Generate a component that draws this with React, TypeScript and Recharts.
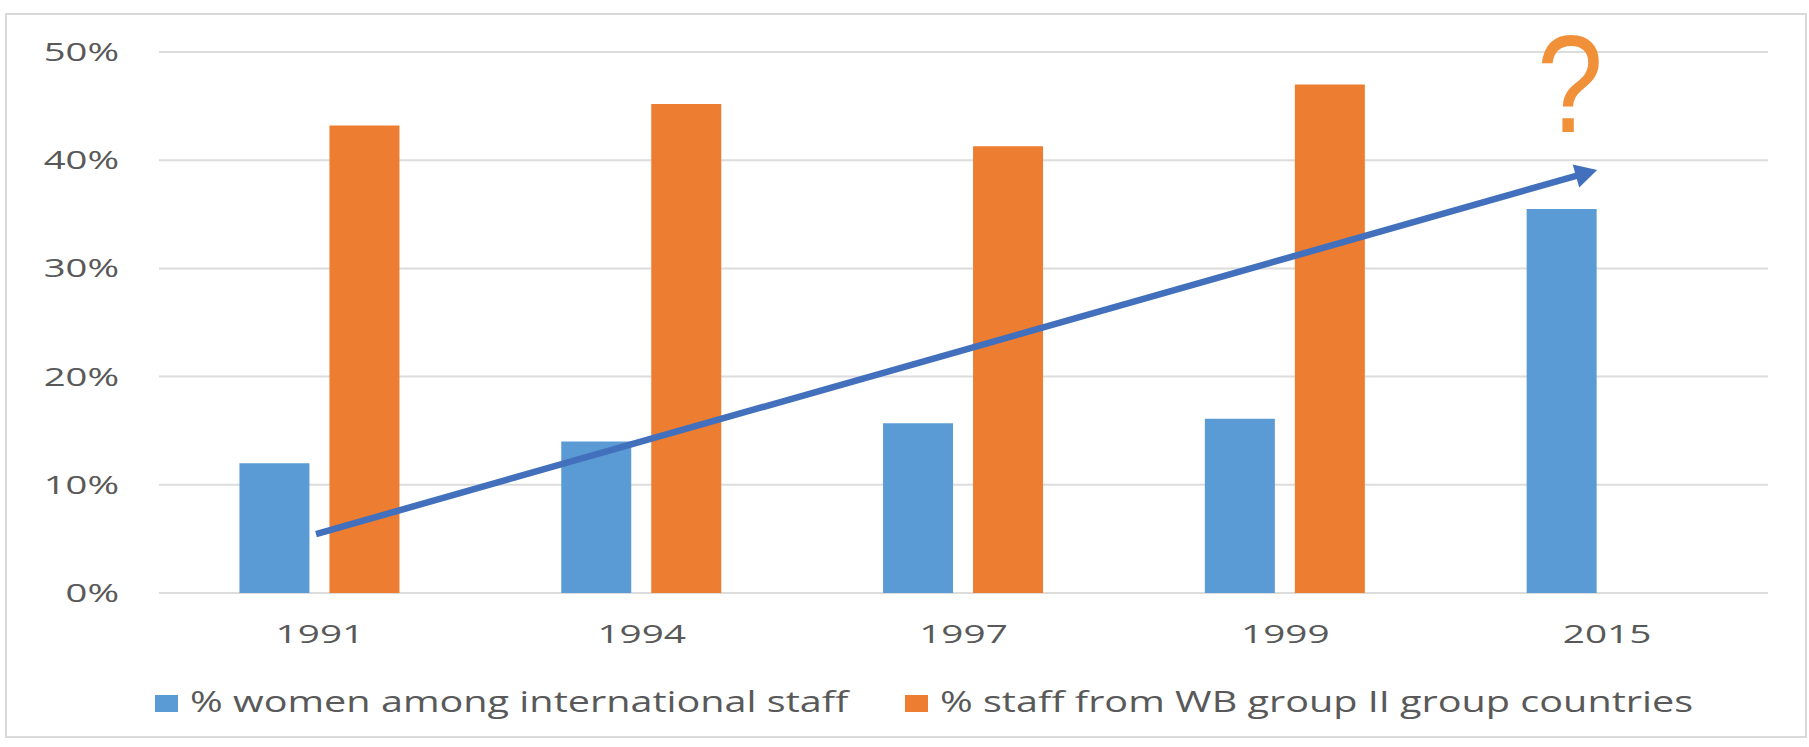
import { BarChart, Bar, XAxis, YAxis, CartesianGrid, Legend, ReferenceLine, ReferenceDot } from 'recharts';

const years = ['1991', '1994', '1997', '1999', '2015'];
const womenShare = [12.0, 14.0, 15.7, 16.1, 35.5];
const groupIIShare: (number | null)[] = [43.2, 45.2, 41.3, 47.0, null];
const yTicks = [0, 10, 20, 30, 40, 50];

const seriesNames = ['% women among international staff', '% staff from WB group II group countries'];

// trend arrow ends, on the "pos" axis (0..5 across the five bands)
const trendStart = { x: 0.488, y: 5.45 };
const trendEnd = { x: 4.469, y: 39.1 };
const questionMark = { x: 4.385, y: 42.6 };

const data = years.map((year, i) => ({
  year,
  pos: i + 0.5,
  women: womenShare[i],
  groupII: groupIIShare[i],
}));

const FONT = "'Open Sans', sans-serif";
const TEXT = '#595959';
const BLUE = '#5B9BD5';
const ORANGE = '#ED7D31';
const GRID = '#DCDCDC';

const YTick = ({ x, y, payload }: any) => (
  <text
    transform={`translate(${x - 40},${y + 9}) scale(1.53,1)`}
    textAnchor="end"
    fontSize={25}
    fontFamily={FONT}
    fill={TEXT}
  >
    {payload.value}%
  </text>
);

const XTick = ({ x, y, payload }: any) => (
  <text
    transform={`translate(${x},${y + 50}) scale(1.55,1)`}
    textAnchor="middle"
    fontSize={25}
    fontFamily={FONT}
    fill={TEXT}
  >
    {payload.value}
  </text>
);

const legendX = [155, 905];

const renderLegend = ({ payload }: any) => {
  const items = [...(payload || [])].sort(
    (a: any, b: any) => seriesNames.indexOf(a.value) - seriesNames.indexOf(b.value),
  );
  return (
    <svg width={1768} height={54} style={{ display: 'block' }}>
      {items.map((entry: any, i: number) => (
        <g key={entry.value}>
          <rect x={legendX[i]} y={22} width={23} height={17} fill={entry.color} />
          <text
            transform={`translate(${legendX[i] + 35},39) scale(1.32,1)`}
            fontSize={30}
            fontFamily={FONT}
            fill={TEXT}
          >
            {entry.value}
          </text>
        </g>
      ))}
    </svg>
  );
};

const TrendArrow = (props: any) => {
  const { x1, y1, x2, y2 } = props;
  const dx = x2 - x1;
  const dy = y2 - y1;
  const len = Math.sqrt(dx * dx + dy * dy);
  const ux = dx / len;
  const uy = dy / len;
  const headLen = 22;
  const headHalf = 12;
  const bx = x2 - ux * headLen;
  const by = y2 - uy * headLen;
  const pts = [
    `${x2},${y2}`,
    `${bx - uy * headHalf},${by + ux * headHalf}`,
    `${bx + uy * headHalf},${by - ux * headHalf}`,
  ].join(' ');
  return (
    <g>
      <line x1={x1} y1={y1} x2={bx + ux * 2} y2={by + uy * 2} stroke="#4270BD" strokeWidth={6.5} />
      <polygon points={pts} fill="#4270BD" />
    </g>
  );
};

// narrowed a little so the glyph keeps the slim look
const QuestionMark = ({ cx, cy }: any) => (
  <text
    transform={`translate(${cx},${cy}) scale(0.85,1)`}
    textAnchor="middle"
    fontSize={140}
    fontFamily="'Liberation Sans', sans-serif"
    fill="#F0913A"
  >
    ?
  </text>
);

export default function App() {
  return (
    <div style={{ position: 'absolute', left: 0, top: 0, width: 1809, height: 747, background: '#fff' }}>
      <div
        style={{
          position: 'absolute',
          left: 5,
          top: 13,
          width: 1802,
          height: 725,
          border: '2px solid #D9D9D9',
          boxSizing: 'border-box',
        }}
      />
      <BarChart
        width={1809}
        height={747}
        data={data}
        margin={{ top: 52, right: 41, left: 0, bottom: 20 }}
        barCategoryGap="25%"
        barGap={20}
      >
        <CartesianGrid vertical={false} stroke={GRID} strokeWidth={2} />
        <XAxis
          dataKey="year"
          height={80}
          axisLine={false}
          tickLine={false}
          tickSize={0}
          tickMargin={0}
          tick={<XTick />}
          interval={0}
        />
        <XAxis xAxisId="pos" dataKey="pos" type="number" domain={[0, 5]} allowDataOverflow hide />
        <YAxis
          width={159}
          domain={[0, 50]}
          ticks={yTicks}
          axisLine={false}
          tickLine={false}
          tickSize={0}
          tickMargin={0}
          tick={<YTick />}
          interval={0}
        />
        <Legend verticalAlign="bottom" content={renderLegend} />
        <Bar dataKey="women" name={seriesNames[0]} fill={BLUE} isAnimationActive={false} />
        <Bar dataKey="groupII" name={seriesNames[1]} fill={ORANGE} isAnimationActive={false} />
        <ReferenceLine
          xAxisId="pos"
          segment={[trendStart, trendEnd]}
          ifOverflow="visible"
          shape={TrendArrow}
        />
        <ReferenceDot
          xAxisId="pos"
          x={questionMark.x}
          y={questionMark.y}
          r={0}
          ifOverflow="visible"
          shape={QuestionMark}
        />
      </BarChart>
    </div>
  );
}
